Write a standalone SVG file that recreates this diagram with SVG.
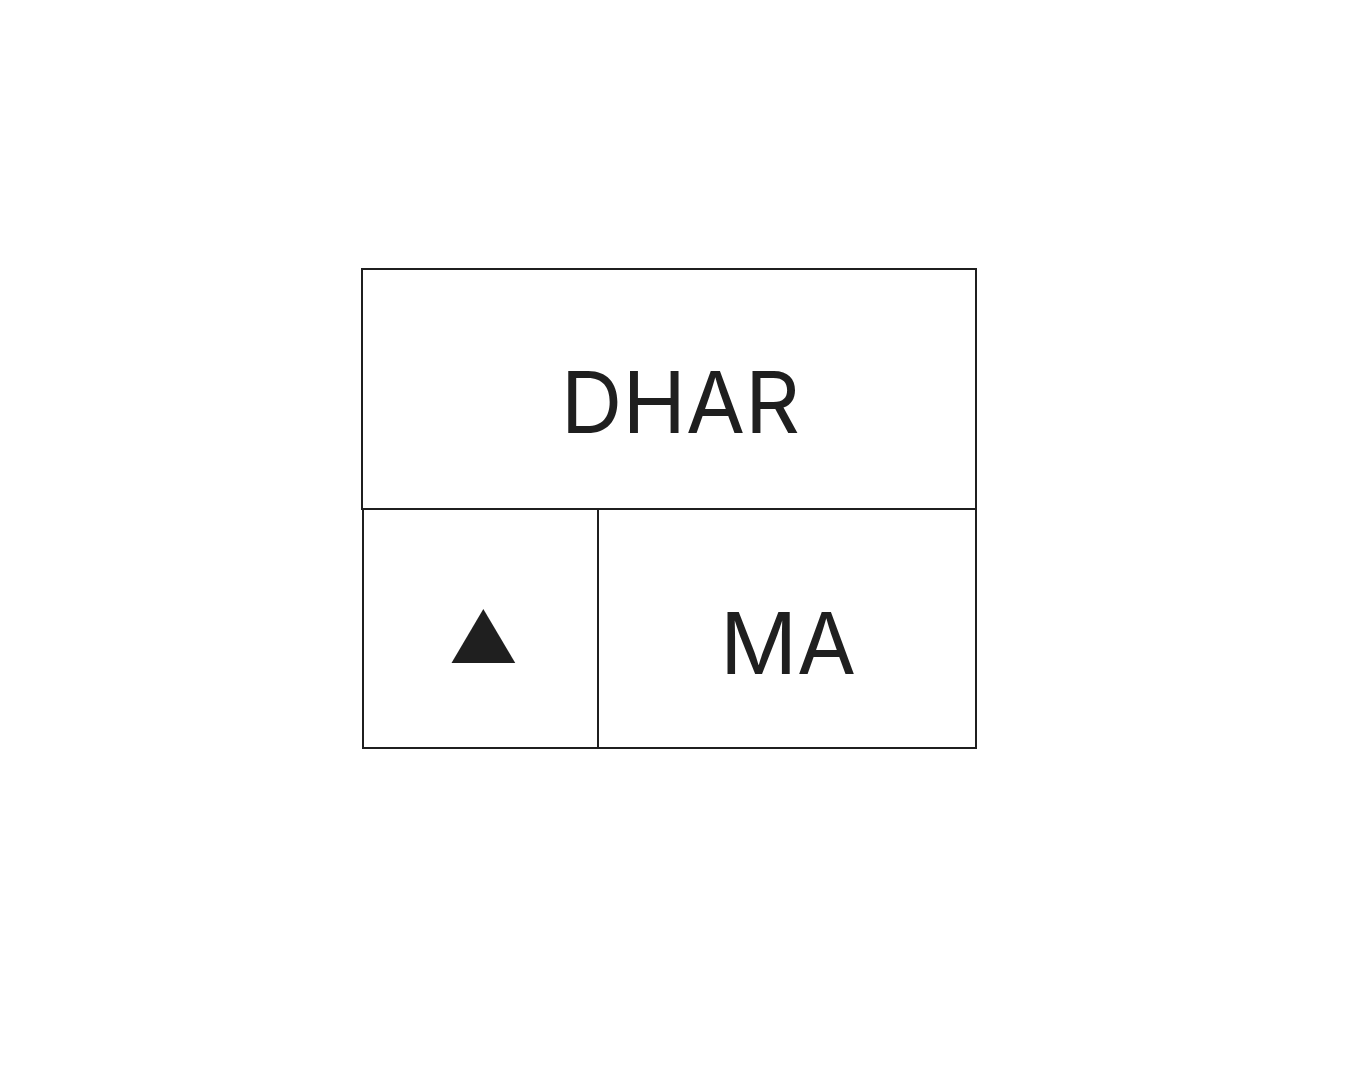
<svg xmlns="http://www.w3.org/2000/svg" width="1361" height="1077" viewBox="0 0 1361 1077">
<style>
.box{fill:#ffffff;stroke:#1f1f1f;stroke-width:2}
.lbl{font-family:Inter,"Liberation Sans",sans-serif;font-size:85.5px;fill:#1f1f1f}
.sym{font-family:Inter,"DejaVu Sans",sans-serif;font-size:70px;fill:#1f1f1f}
</style>
<rect width="1361" height="1077" fill="#ffffff"/>
<g id="top">
<rect class="box" x="362" y="269" width="614" height="240"/>
<text class="lbl" x="680.5" y="433" text-anchor="middle">DHAR</text>
</g>
<g id="left">
<rect class="box" x="363" y="509" width="235" height="239"/>
<text class="sym" x="483.5" y="663" text-anchor="middle">▲</text>
</g>
<g id="right">
<rect class="box" x="598" y="509" width="378" height="239"/>
<text class="lbl" x="788" y="673.5" text-anchor="middle">MA</text>
</g>
<g id="connectors"></g>
</svg>
